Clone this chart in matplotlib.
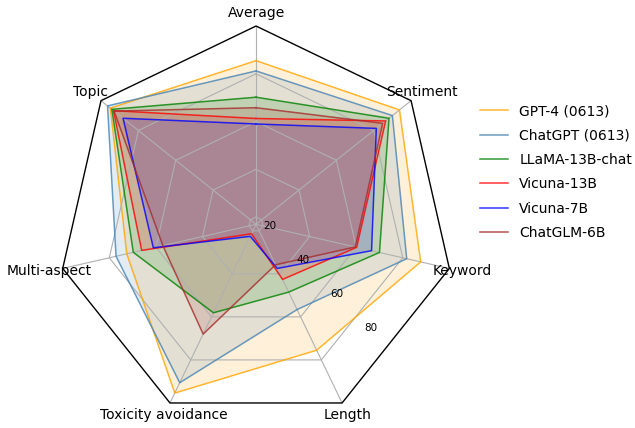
import numpy as np
import matplotlib
matplotlib.use('Agg')
import matplotlib.pyplot as plt
from matplotlib.patches import RegularPolygon
from matplotlib.path import Path
from matplotlib.projections import register_projection
from matplotlib.projections.polar import PolarAxes
from matplotlib.spines import Spine
from matplotlib.transforms import Affine2D

categories = ['Average', 'Sentiment', 'Keyword', 'Length',
              'Toxicity avoidance', 'Multi-aspect', 'Topic']
models = ['GPT-4 (0613)', 'ChatGPT (0613)', 'LLaMA-13B-chat',
          'Vicuna-13B', 'Vicuna-7B', 'ChatGLM-6B']
gpt4 = [85.5, 93.8, 87.7, 75.5, 95.4, 72.5, 95.0]
chatgpt = [81.2, 90.0, 81.7, 56.6, 90.6, 77.1, 96.5]
llama13b = [70.2, 88.2, 70.0, 48.5, 58.1, 69.7, 94.2]
vicuna13b = [61.3, 86.4, 60.2, 42.6, 21.4, 66.1, 93.3]
vicuna7b = [59.0, 81.4, 66.6, 37.5, 22.6, 61.1, 88.2]
chatglm6b = [65.8, 84.8, 59.6, 35.8, 68.0, 57.0, 93.0]
series = [gpt4, chatgpt, llama13b, vicuna13b, vicuna7b, chatglm6b]
colors = ['orange', 'steelblue', 'green', 'red', 'blue', 'brown']
rticks = [20, 40, 60, 80]

N = len(categories)
theta = np.linspace(0, 2 * np.pi, N, endpoint=False)


class RadarTransform(PolarAxes.PolarTransform):
    def transform_path_non_affine(self, path):
        if path._interpolation_steps > 1:
            path = path.interpolated(N)
        return Path(self.transform(path.vertices), path.codes)


class RadarAxes(PolarAxes):
    name = 'radar'
    PolarTransform = RadarTransform

    def __init__(self, *args, **kwargs):
        super().__init__(*args, **kwargs)
        self.set_theta_zero_location('N')

    def fill(self, *args, closed=True, **kwargs):
        return super().fill(closed=closed, *args, **kwargs)

    def plot(self, *args, **kwargs):
        lines = super().plot(*args, **kwargs)
        for line in lines:
            x, y = line.get_data()
            if x[0] != x[-1]:
                line.set_data(np.append(x, x[0]), np.append(y, y[0]))
        return lines

    def _gen_axes_patch(self):
        return RegularPolygon((0.5, 0.5), N, radius=.5, edgecolor="k")

    def _gen_axes_spines(self):
        spine = Spine(axes=self, spine_type='circle',
                      path=Path.unit_regular_polygon(N))
        spine.set_transform(Affine2D().scale(.5).translate(.5, .5)
                            + self.transAxes)
        return {'polar': spine}


register_projection(RadarAxes)

fig = plt.figure(figsize=(6.35, 4.28), dpi=100)
ax = fig.add_axes([0.0909, 0.0126, 0.6246, 0.9266], projection='radar')
ax.set_theta_direction(-1)

for vals, c, m in zip(series, colors, models):
    ax.plot(theta, vals, color=c, linewidth=1.1, alpha=0.8, label=m)
    ax.fill(theta, vals, facecolor=c, alpha=0.15)

ax.set_ylim(17, 100)
ax.set_rgrids(rticks, labels=[''] * len(rticks))
rl_angle = np.radians(135)
for t in rticks:
    ax.annotate(str(t), xy=(rl_angle, t), xytext=(6.2, 2.2),
                textcoords='offset points', ha='center', va='center',
                fontsize=7.5, zorder=5)
ax.set_thetagrids(np.degrees(theta), categories, fontsize=10)
ax.tick_params(axis='x', pad=-0.8)
ax.spines['polar'].set_edgecolor('black')
ax.spines['polar'].set_linewidth(1.0)

fig.legend(loc='upper left', bbox_to_anchor=(0.737, 0.786), frameon=False,
           fontsize=10, labelspacing=0.75)

fig.savefig('out.png', dpi=100)
